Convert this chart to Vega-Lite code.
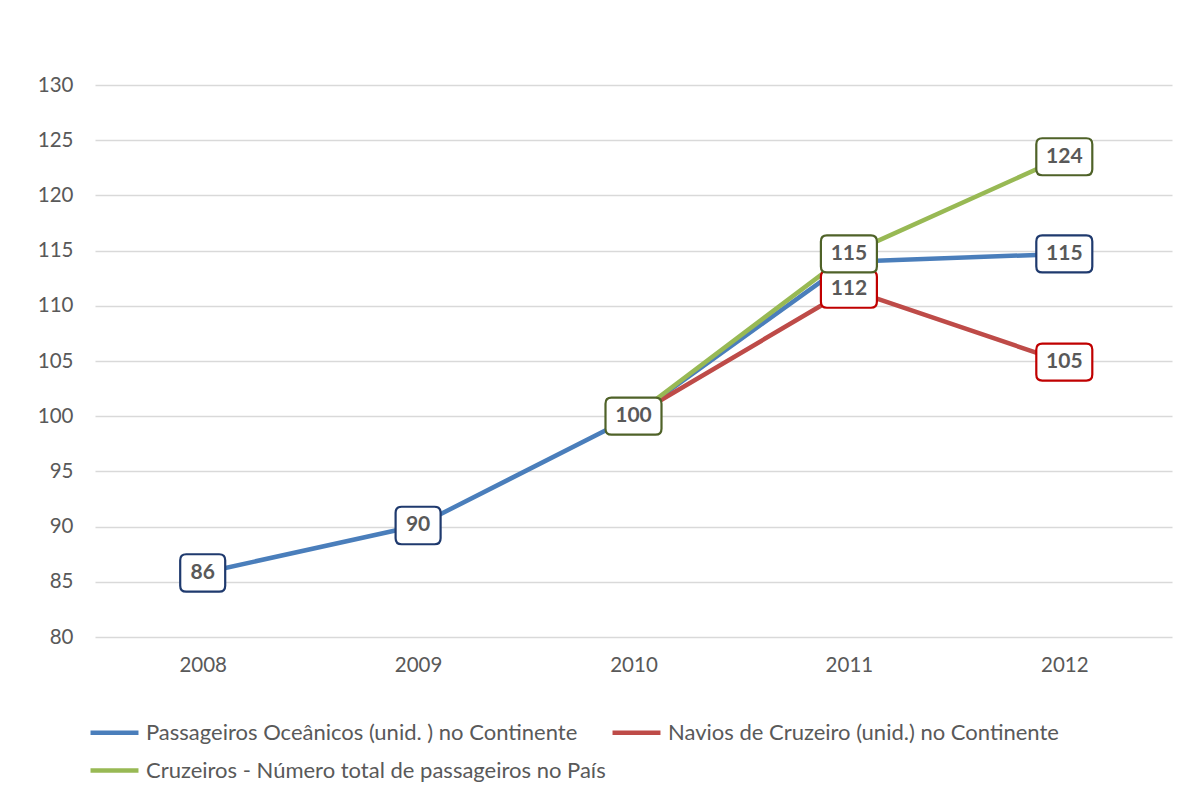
{
  "$schema": "https://vega.github.io/schema/vega-lite/v6.json",
  "width": 1077,
  "height": 552,
  "autosize": {"type": "none"},
  "padding": {"left": 95, "top": 85, "right": 28, "bottom": 159},
  "background": "white",
  "config": {
    "view": {"stroke": null},
    "font": "Lato"
  },
  "data": {
    "values": [
      {"ano": "2008", "serie": "Passageiros Oceânicos (unid. ) no Continente", "valor": 85.8, "rotulo": 86},
      {"ano": "2009", "serie": "Passageiros Oceânicos (unid. ) no Continente", "valor": 90.1, "rotulo": 90},
      {"ano": "2010", "serie": "Passageiros Oceânicos (unid. ) no Continente", "valor": 100, "rotulo": null},
      {"ano": "2011", "serie": "Passageiros Oceânicos (unid. ) no Continente", "valor": 114.0, "rotulo": null},
      {"ano": "2012", "serie": "Passageiros Oceânicos (unid. ) no Continente", "valor": 114.7, "rotulo": 115},
      {"ano": "2010", "serie": "Navios de Cruzeiro (unid.) no Continente", "valor": 100, "rotulo": null},
      {"ano": "2011", "serie": "Navios de Cruzeiro (unid.) no Continente", "valor": 111.5, "rotulo": 112},
      {"ano": "2012", "serie": "Navios de Cruzeiro (unid.) no Continente", "valor": 104.9, "rotulo": 105},
      {"ano": "2010", "serie": "Cruzeiros - Número total de passageiros no País", "valor": 100, "rotulo": 100},
      {"ano": "2011", "serie": "Cruzeiros - Número total de passageiros no País", "valor": 114.7, "rotulo": 115},
      {"ano": "2012", "serie": "Cruzeiros - Número total de passageiros no País", "valor": 123.5, "rotulo": 124}
    ]
  },
  "encoding": {
    "x": {
      "field": "ano",
      "type": "ordinal",
      "scale": {"type": "point", "padding": 0.5},
      "axis": {
        "title": null,
        "labelAngle": 0,
        "labelFont": "Lato",
        "labelFontSize": 20.5,
        "labelColor": "#595959",
        "labelPadding": 18,
        "domain": false,
        "ticks": false,
        "grid": false
      }
    },
    "y": {
      "field": "valor",
      "type": "quantitative",
      "scale": {"domain": [80, 130], "nice": false, "zero": false},
      "axis": {
        "title": null,
        "values": [80, 85, 90, 95, 100, 105, 110, 115, 120, 125, 130],
        "labelFont": "Lato",
        "labelFontSize": 20.5,
        "labelColor": "#595959",
        "labelPadding": 22,
        "domain": false,
        "ticks": false,
        "grid": true,
        "gridColor": "#d9d9d9",
        "gridWidth": 1.3
      }
    }
  },
  "layer": [
    {
      "mark": {"type": "line", "strokeWidth": 4.5, "strokeCap": "round", "strokeJoin": "round"},
      "encoding": {
        "color": {
          "field": "serie",
          "type": "nominal",
          "scale": {
            "domain": ["Passageiros Oceânicos (unid. ) no Continente", "Navios de Cruzeiro (unid.) no Continente", "Cruzeiros - Número total de passageiros no País"],
            "range": ["#4a7ebb", "#be4b48", "#98b954"]
          },
          "legend": {
            "title": null,
            "orient": "none",
            "legendX": -7,
            "legendY": 621,
            "direction": "horizontal",
            "columns": 2,
            "columnPadding": -3,
            "rowPadding": -8,
            "symbolType": "stroke",
            "symbolSize": 2300,
            "symbolStrokeWidth": 4.5,
            "labelFont": "Lato",
            "labelFontSize": 22,
            "labelColor": "#595959",
            "labelOffset": 5,
            "labelLimit": 700
          }
        }
      }
    },
    {
      "transform": [{"filter": "datum.rotulo != null && datum.rotulo < 100"}],
      "mark": {
        "type": "point",
        "filled": false,
        "fill": "white",
        "fillOpacity": 1,
        "strokeWidth": 2.2,
        "opacity": 1,
        "size": 2025,
        "shape": "M-0.733,-0.833L0.733,-0.833Q1,-0.833 1,-0.567L1,0.567Q1,0.833 0.733,0.833L-0.733,0.833Q-1,0.833 -1,0.567L-1,-0.567Q-1,-0.833 -0.733,-0.833Z"
      },
      "encoding": {
        "stroke": {
          "field": "serie",
          "type": "nominal",
          "scale": {
            "domain": ["Passageiros Oceânicos (unid. ) no Continente", "Navios de Cruzeiro (unid.) no Continente", "Cruzeiros - Número total de passageiros no País"],
            "range": ["#1f3a6e", "#c00000", "#4f6228"]
          },
          "legend": null
        }
      }
    },
    {
      "transform": [{"filter": "datum.rotulo != null && datum.rotulo >= 100"}],
      "mark": {
        "type": "point",
        "filled": false,
        "fill": "white",
        "fillOpacity": 1,
        "strokeWidth": 2.2,
        "opacity": 1,
        "size": 3136,
        "shape": "M-0.786,-0.661L0.786,-0.661Q1,-0.661 1,-0.447L1,0.447Q1,0.661 0.786,0.661L-0.786,0.661Q-1,0.661 -1,0.447L-1,-0.447Q-1,-0.661 -0.786,-0.661Z"
      },
      "encoding": {
        "stroke": {
          "field": "serie",
          "type": "nominal",
          "scale": {
            "domain": ["Passageiros Oceânicos (unid. ) no Continente", "Navios de Cruzeiro (unid.) no Continente", "Cruzeiros - Número total de passageiros no País"],
            "range": ["#1f3a6e", "#c00000", "#4f6228"]
          },
          "legend": null
        }
      }
    },
    {
      "transform": [{"filter": "datum.rotulo != null"}],
      "mark": {
        "type": "text",
        "font": "Lato",
        "fontSize": 21,
        "fontWeight": "bold",
        "color": "#595959",
        "align": "center",
        "baseline": "middle"
      },
      "encoding": {
        "text": {"field": "rotulo", "type": "quantitative"}
      }
    }
  ]
}
